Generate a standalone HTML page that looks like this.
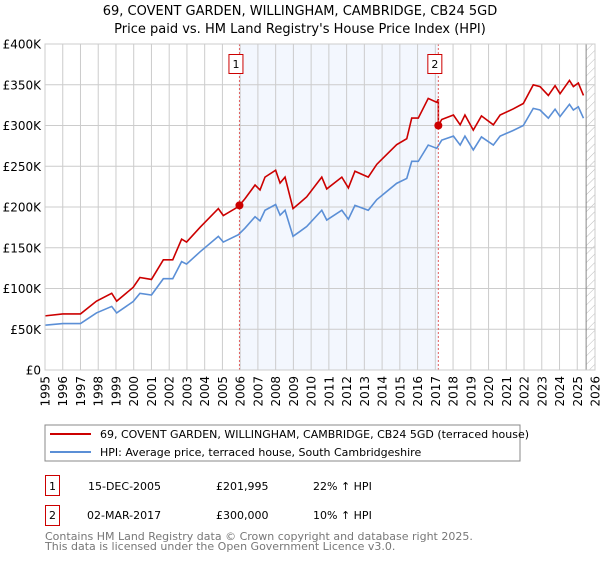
<!DOCTYPE html>
<html><head><meta charset="utf-8"><style>
body{margin:0;background:#fff;width:600px;height:560px;overflow:hidden;font-family:"DejaVu Sans","Liberation Sans",sans-serif}
svg text{font-family:"DejaVu Sans","Liberation Sans",sans-serif}
</style></head><body>
<svg id="c" width="600" height="560" xmlns="http://www.w3.org/2000/svg">
<text x="300" y="15" text-anchor="middle" font-size="13">69, COVENT GARDEN, WILLINGHAM, CAMBRIDGE, CB24 5GD</text>
<text x="300" y="33" text-anchor="middle" font-size="13">Price paid vs. HM Land Registry's House Price Index (HPI)</text>
<defs><pattern id="hatch" width="6" height="6" patternUnits="userSpaceOnUse" patternTransform="rotate(45)"><line x1="0" y1="0" x2="0" y2="6" stroke="#bbb" stroke-width="1"/></pattern></defs>
<g id="plot"></g>
<rect x="45" y="425" width="475" height="36" fill="#fff" stroke="#888"/>
<line x1="50" y1="434" x2="91" y2="434" stroke="#cc0000" stroke-width="2"/>
<text x="100" y="438" font-size="11">69, COVENT GARDEN, WILLINGHAM, CAMBRIDGE, CB24 5GD (terraced house)</text>
<line x1="50" y1="452" x2="91" y2="452" stroke="#5b8fd6" stroke-width="2"/>
<text x="100" y="456" font-size="11">HPI: Average price, terraced house, South Cambridgeshire</text>
<rect x="45.5" y="475.5" width="14" height="20" fill="none" stroke="#cc0000"/>
<text x="52.5" y="490" font-size="11" text-anchor="middle">1</text>
<text x="88" y="490" font-size="11">15-DEC-2005</text>
<text x="216" y="490" font-size="11">£201,995</text>
<text x="313" y="490" font-size="11">22% ↑ HPI</text>
<rect x="45.5" y="505.5" width="14" height="20" fill="none" stroke="#cc0000"/>
<text x="52.5" y="519" font-size="11" text-anchor="middle">2</text>
<text x="87" y="519" font-size="11">02-MAR-2017</text>
<text x="216" y="519" font-size="11">£300,000</text>
<text x="313" y="519" font-size="11">10% ↑ HPI</text>
<text x="45" y="540" font-size="11" fill="#777">Contains HM Land Registry data © Crown copyright and database right 2025.</text>
<text x="45" y="550" font-size="11" fill="#777">This data is licensed under the Open Government Licence v3.0.</text>
</svg>
<script>
const hpiYears=[1995.0,1996.0,1997.0,1997.9,1998.76,1999.04,1999.97,2000.35,2001.0,2001.67,2002.2,2002.7,2002.98,2003.74,2004.77,2005.05,2005.9,2006.27,2006.84,2007.12,2007.4,2008.0,2008.25,2008.53,2008.98,2009.37,2009.75,2010.6,2010.88,2011.73,2012.1,2012.47,2013.22,2013.7,2014.82,2015.39,2015.67,2016.04,2016.6,2017.08,2017.36,2018.02,2018.4,2018.67,2019.14,2019.6,2020.27,2020.65,2021.4,2021.96,2022.52,2022.9,2023.37,2023.75,2024.03,2024.56,2024.78,2025.06,2025.35];
const hpiValues=[55,57,57,70,78,70,84,94,92,112,112,133,130,145,164,157,166,174,188,183,196,203,190,196,164,170,176,196,184,196,185,202,196,209,229,235,256,256,276,272,282,287,276,287,270,286,276,287,294,300,321,319,309,320,311,326,319,323,309];
const saleYears=[2005.96,2017.17];
const salePrices=[201.995,300];
const saleLabels=['1','2'];
const yTicks=[0,50,100,150,200,250,300,350,400];
const yTickLabels=['£0','£50K','£100K','£150K','£200K','£250K','£300K','£350K','£400K'];
const xYears=[];for(let y=1995;y<=2026;y++)xYears.push(y);

const X0=45,X1=595,Y0=370,Y1=44;
const xs=y=>X0+(y-1995)/(2026-1995)*(X1-X0);
const ys=v=>Y0-v/400*(Y0-Y1);
const g=document.getElementById('plot');
const NS='http://www.w3.org/2000/svg';
function el(t,a){const e=document.createElementNS(NS,t);for(const k in a)e.setAttribute(k,a[k]);g.appendChild(e);return e;}
function hpiAt(y){for(let i=0;i<hpiYears.length-1;i++){if(y<=hpiYears[i+1]){const t=(y-hpiYears[i])/(hpiYears[i+1]-hpiYears[i]);return hpiValues[i]+t*(hpiValues[i+1]-hpiValues[i]);}}return hpiValues[hpiValues.length-1];}

let r=el('rect',{x:xs(saleYears[0]),y:Y1,width:xs(saleYears[1])-xs(saleYears[0]),height:Y0-Y1,fill:'#eef3fd',opacity:0.7});


let h=el('rect',{x:xs(2025.5),y:Y1,width:X1-xs(2025.5),height:Y0-Y1,fill:'url(#hatch)'});


xYears.forEach(y=>{
  let l=el('line',{x1:xs(y),x2:xs(y),y1:Y1,y2:Y0,stroke:'#ccc','stroke-width':1});
  
  
  let t=el('text',{x:0,y:0,'font-size':12,'text-anchor':'end',transform:`translate(${xs(y)+4.5},376) rotate(-90)`});
  t.textContent=y;
  
  
});
yTicks.forEach((v,i)=>{
  let l=el('line',{x1:X0,x2:X1,y1:ys(v),y2:ys(v),stroke:'#ccc','stroke-width':1});
  
  
  let t=el('text',{x:41,y:ys(v)+4.5,'font-size':12,'text-anchor':'end'});
  t.textContent=yTickLabels[i];
  
  
});
let hl=el('line',{x1:xs(2025.5),x2:xs(2025.5),y1:Y1,y2:Y0,stroke:'#888','stroke-width':1});


// ratios
const r1=salePrices[0]/hpiAt(saleYears[0]), r2=salePrices[1]/hpiAt(saleYears[1]);
const hp=hpiYears.map((y,i)=>xs(y)+','+ys(hpiValues[i])).join(' ');
let hpiLine=el('polyline',{points:hp,fill:'none',stroke:'#5b8fd6','stroke-width':1.6});


const rp=[];
hpiYears.forEach((y,i)=>{if(y<saleYears[1])rp.push([y,hpiValues[i]*r1]);});
rp.push([saleYears[1],hpiAt(saleYears[1])*r1]);
rp.push([saleYears[1],salePrices[1]]);
hpiYears.forEach((y,i)=>{if(y>saleYears[1])rp.push([y,hpiValues[i]*r2]);});
let redLine=el('polyline',{points:rp.map(p=>xs(p[0])+','+ys(p[1])).join(' '),fill:'none',stroke:'#cc0000','stroke-width':1.6});


saleYears.forEach((y,i)=>{
  let v=el('line',{x1:xs(y),x2:xs(y),y1:Y1,y2:Y0,stroke:'#e06060','stroke-width':1,'stroke-dasharray':'2,2'});
  
  
  let d=el('circle',{cx:xs(y),cy:ys(salePrices[i]),r:4,fill:'#cc0000'});
  
  
  let b=el('rect',{x:xs(y)-10.5,y:54.5,width:14,height:19,fill:'#fff',stroke:'#cc0000'});
  
  
  let t=el('text',{x:xs(y)-3.5,y:68,'font-size':11,'text-anchor':'middle'});
  t.textContent=saleLabels[i];
  
  
});
let ax=el('rect',{x:X0,y:Y1,width:X1-X0,height:Y0-Y1,fill:'none',stroke:'#ccc'});


</script>
</body></html>
